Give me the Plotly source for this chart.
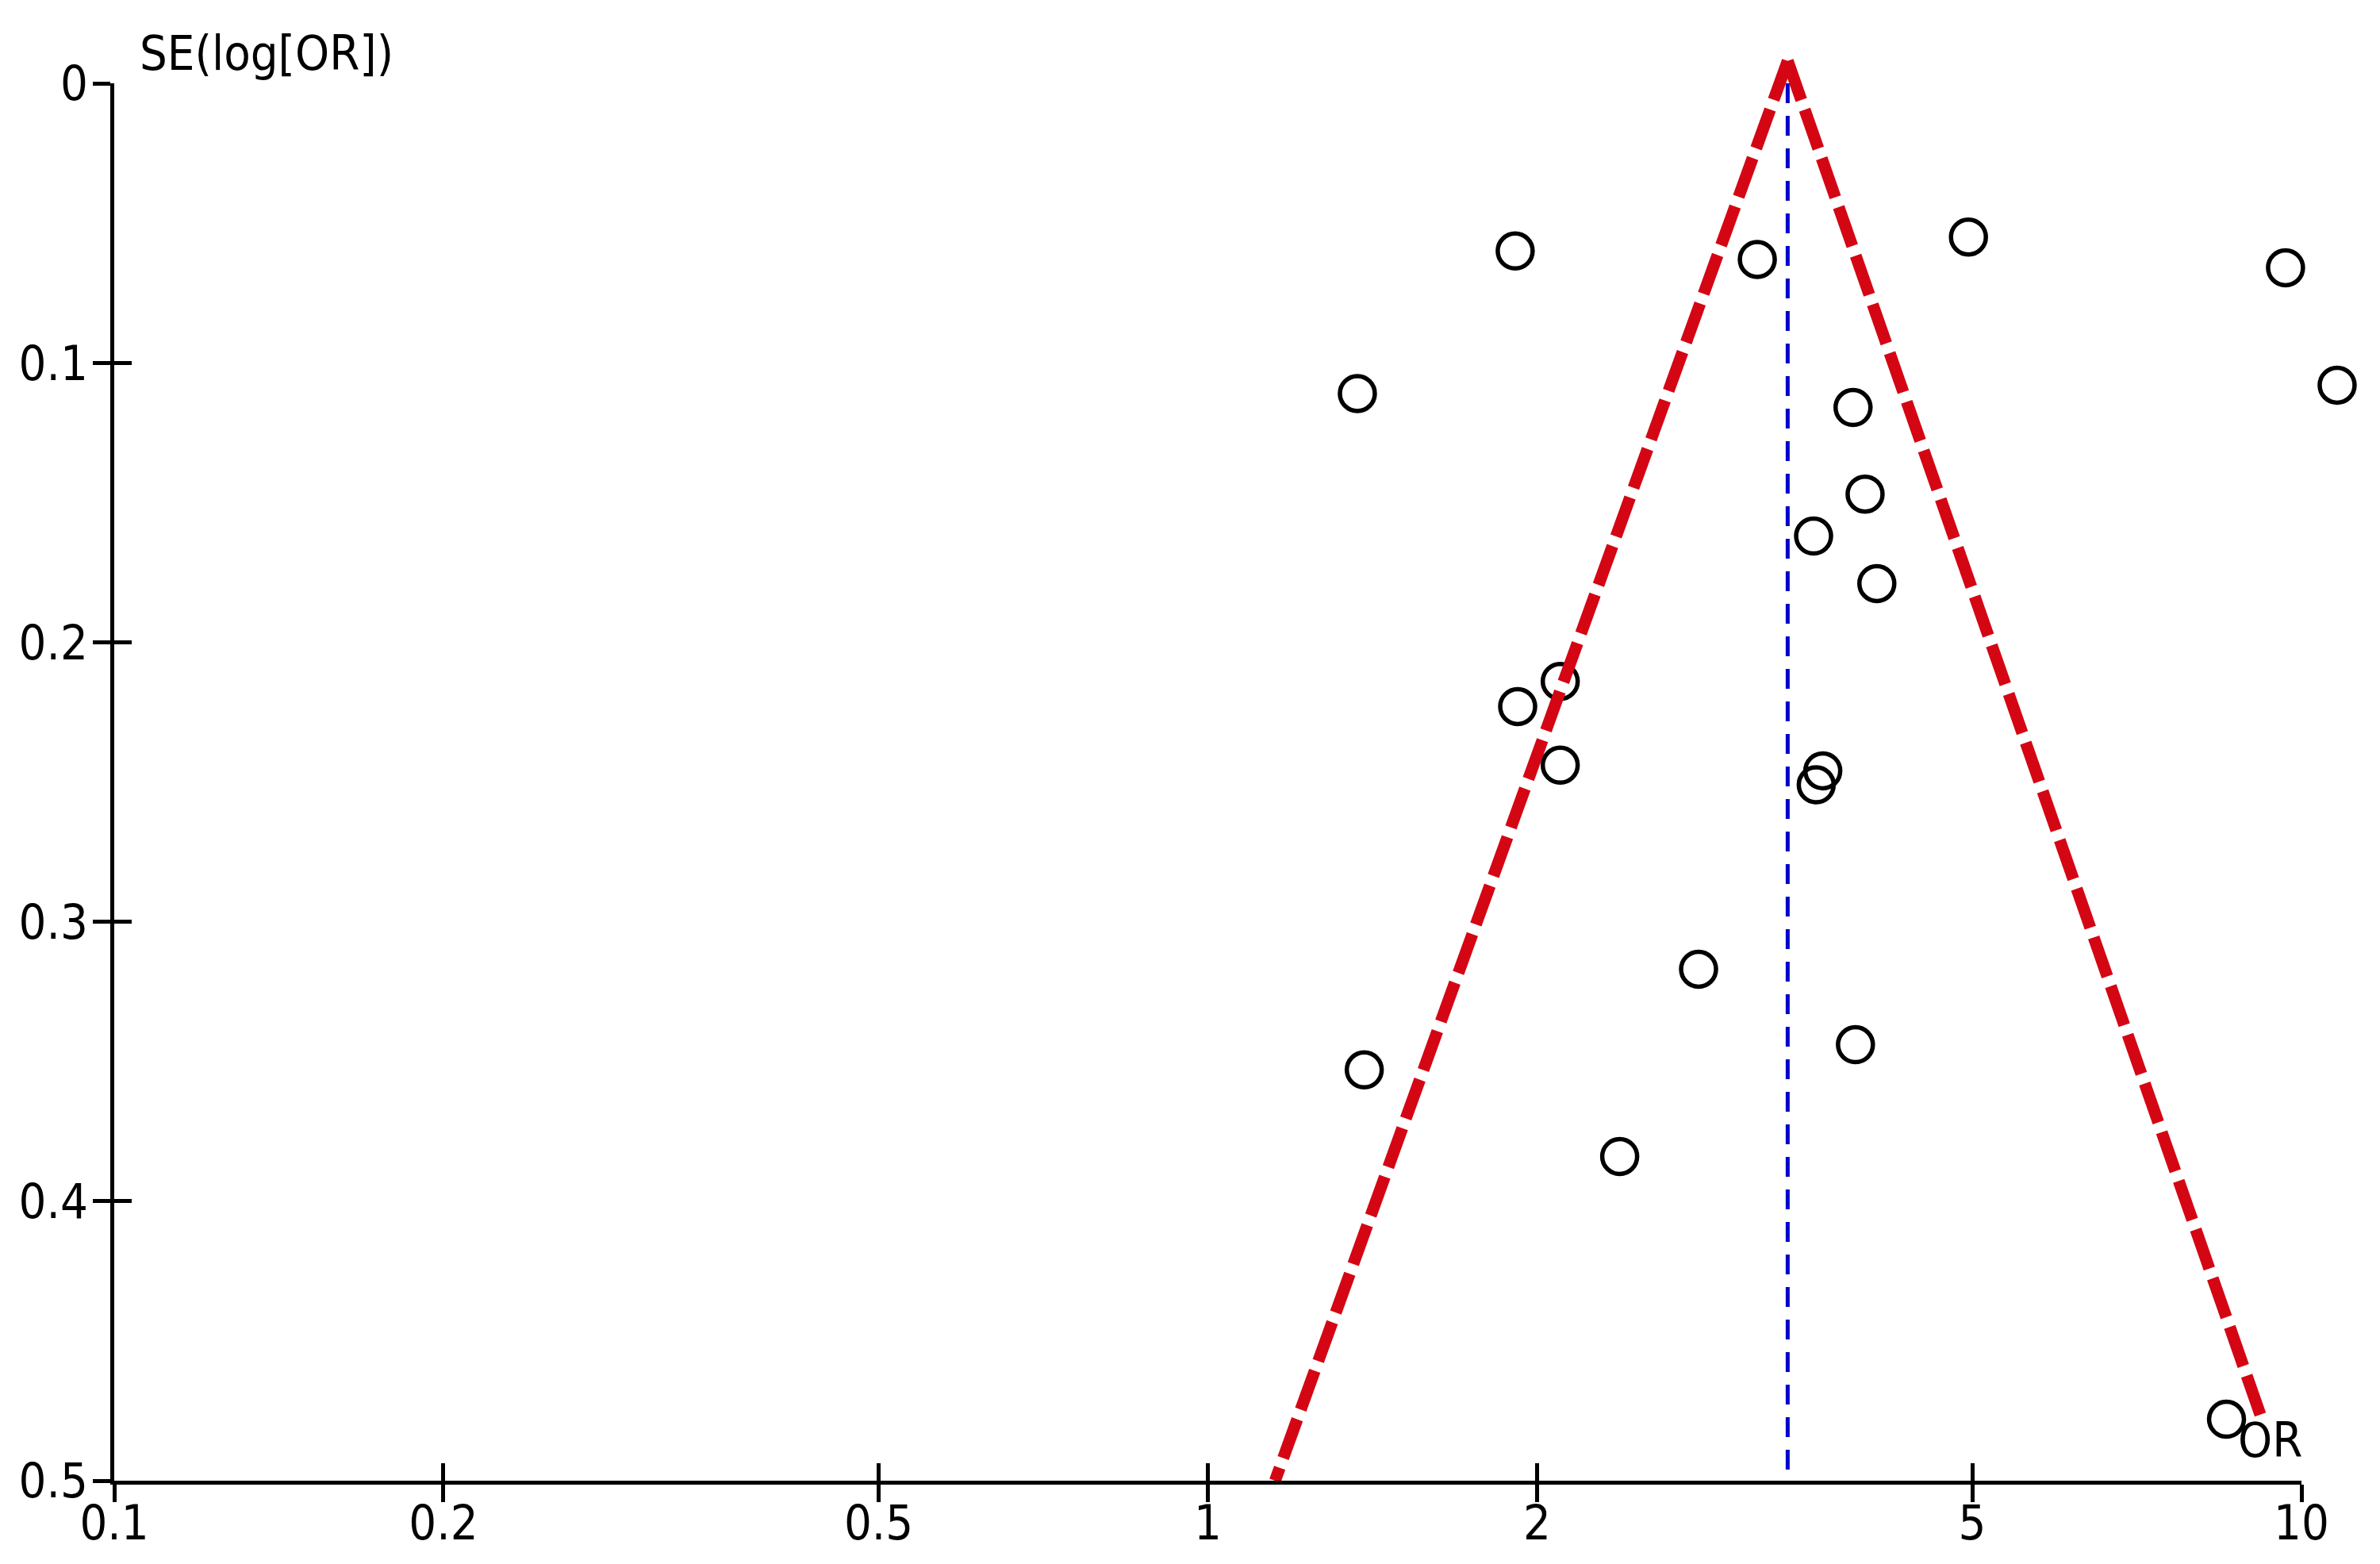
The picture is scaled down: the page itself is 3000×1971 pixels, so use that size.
import plotly.graph_objects as go

# study estimates
STUDY_OR = [1.91, 3.18, 4.96, 9.67, 1.37, 10.78, 3.89, 3.99, 3.58, 4.09,
            2.10, 1.92, 2.10, 3.65, 3.60, 2.81, 3.91, 1.39, 2.38, 8.54]
STUDY_SE = [0.060, 0.063, 0.055, 0.066, 0.111, 0.108, 0.116, 0.147, 0.162, 0.179,
            0.214, 0.223, 0.244, 0.246, 0.251, 0.317, 0.344, 0.353, 0.384, 0.478]

POOLED_OR = 3.39
# funnel drawn from its apex down each side
FUNNEL_APEX = (3.39, -0.008)
FUNNEL_LEFT_END = (1.152, 0.5)
FUNNEL_RIGHT_END = (9.22, 0.479)

X_TICKS = [0.1, 0.2, 0.5, 1, 2, 5, 10]
X_TICK_TEXT = ["0.1", "0.2", "0.5", "1", "2", "5", "10"]
Y_TICKS = [0, 0.1, 0.2, 0.3, 0.4, 0.5]
Y_TICK_TEXT = ["0", "0.1", "0.2", "0.3", "0.4", "0.5"]

FONT = "Liberation Sans Narrow, DejaVu Sans Condensed, Arial Narrow, sans-serif"

# visible axes box: x 144..2901px, y 105..1866px.
# the data traces live on hidden axes (x3/y3) that reach a little past that box,
# so the outlying study and the funnel apex are not dropped or clipped.
LEFT, RIGHT, TOP, BOTTOM = 144, 40, 40, 105
PLOT_W = 3000 - LEFT - RIGHT
PLOT_H = 1971 - TOP - BOTTOM
X_END = (2901 - LEFT) / PLOT_W
Y_END = (1866 - 105) / PLOT_H

fig = go.Figure()

# study points
fig.add_trace(go.Scatter(
    x=STUDY_OR, y=STUDY_SE, mode="markers", xaxis="x3", yaxis="y3", cliponaxis=False,
    marker={"symbol": "circle-open", "size": 44, "color": "#000000", "line": {"width": 5.5, "color": "#000000"}},
    showlegend=False,
    hovertemplate="OR %{x}<br>SE %{y}<extra></extra>",
))
# pooled estimate
fig.add_trace(go.Scatter(
    x=[POOLED_OR, POOLED_OR], y=[0, 0.5], mode="lines", xaxis="x3", yaxis="y3",
    line={"color": "#0000CC", "width": 5, "dash": "25px,16px"},
    hoverinfo="skip", showlegend=False,
))
# funnel limits
for end in (FUNNEL_LEFT_END, FUNNEL_RIGHT_END):
    fig.add_trace(go.Scatter(
        x=[FUNNEL_APEX[0], end[0]], y=[FUNNEL_APEX[1], end[1]], mode="lines",
        xaxis="x3", yaxis="y3", cliponaxis=False,
        line={"color": "#D40614", "width": 15, "dash": "52px,13px"},
        hoverinfo="skip", showlegend=False,
    ))
# invisible traces so both tick axes are drawn
fig.add_trace(go.Scatter(x=[1], y=[0.25], mode="markers", marker={"opacity": 0},
                         hoverinfo="skip", showlegend=False))
fig.add_trace(go.Scatter(x=[1], y=[0.25], xaxis="x2", yaxis="y2", mode="markers",
                         marker={"opacity": 0}, hoverinfo="skip", showlegend=False))

common_x = {
    "type": "log", "range": [-1, 1], "tickvals": X_TICKS, "ticktext": X_TICK_TEXT,
    "showgrid": False, "zeroline": False, "ticklen": 22, "tickwidth": 5, "tickcolor": "#000000",
    "automargin": False, "domain": [0, X_END],
}
common_y = {
    "range": [0.5, 0], "tickvals": Y_TICKS, "ticktext": Y_TICK_TEXT,
    "showgrid": False, "zeroline": False, "ticklen": 22, "tickwidth": 5, "tickcolor": "#000000",
    "automargin": False, "domain": [0, Y_END],
}

fig.update_layout(
    template="none",
    width=3000, height=1971,
    margin={"l": LEFT, "r": RIGHT, "t": TOP, "b": BOTTOM, "pad": 0},
    paper_bgcolor="#ffffff", plot_bgcolor="rgba(0,0,0,0)",
    font={"family": FONT, "size": 61, "color": "#000000"},
    hovermode="closest",
    xaxis={**common_x, "ticks": "outside", "showline": True, "linecolor": "#000000", "linewidth": 5,
           "ticklabelstandoff": -26},
    yaxis={**common_y, "ticks": "outside", "showline": True, "linecolor": "#000000", "linewidth": 5,
           "ticklabelstandoff": -6},
    xaxis2={**common_x, "ticks": "inside", "showticklabels": False, "showline": False,
            "overlaying": "x", "anchor": "y2"},
    yaxis2={**common_y, "ticks": "inside", "showticklabels": False, "showline": False,
            "overlaying": "y", "anchor": "x2"},
    xaxis3={"type": "log", "range": [-1, -1 + 2 / X_END], "domain": [0, 1], "anchor": "y3",
            "visible": False, "automargin": False},
    yaxis3={"range": [0.5, 0.5 - 0.5 / Y_END], "domain": [0, 1], "anchor": "x3",
            "visible": False, "automargin": False},
    annotations=[
        {"text": "SE(log[OR])", "xref": "paper", "yref": "paper", "x": 0.0105, "y": (1866 - 66) / PLOT_H,
         "xanchor": "left", "yanchor": "middle", "showarrow": False, "font": {"size": 61}},
        {"text": "OR", "xref": "paper", "yref": "paper", "x": (2904 - LEFT) / PLOT_W, "y": 0,
         "xanchor": "right", "yanchor": "bottom", "yshift": 14, "showarrow": False, "font": {"size": 61}},
    ],
)

# drop the default body margin so the figure sits at the window's top-left corner
fig.write_html("out.html", config={"displayModeBar": False},
               post_script="document.body.style.margin='0';")
